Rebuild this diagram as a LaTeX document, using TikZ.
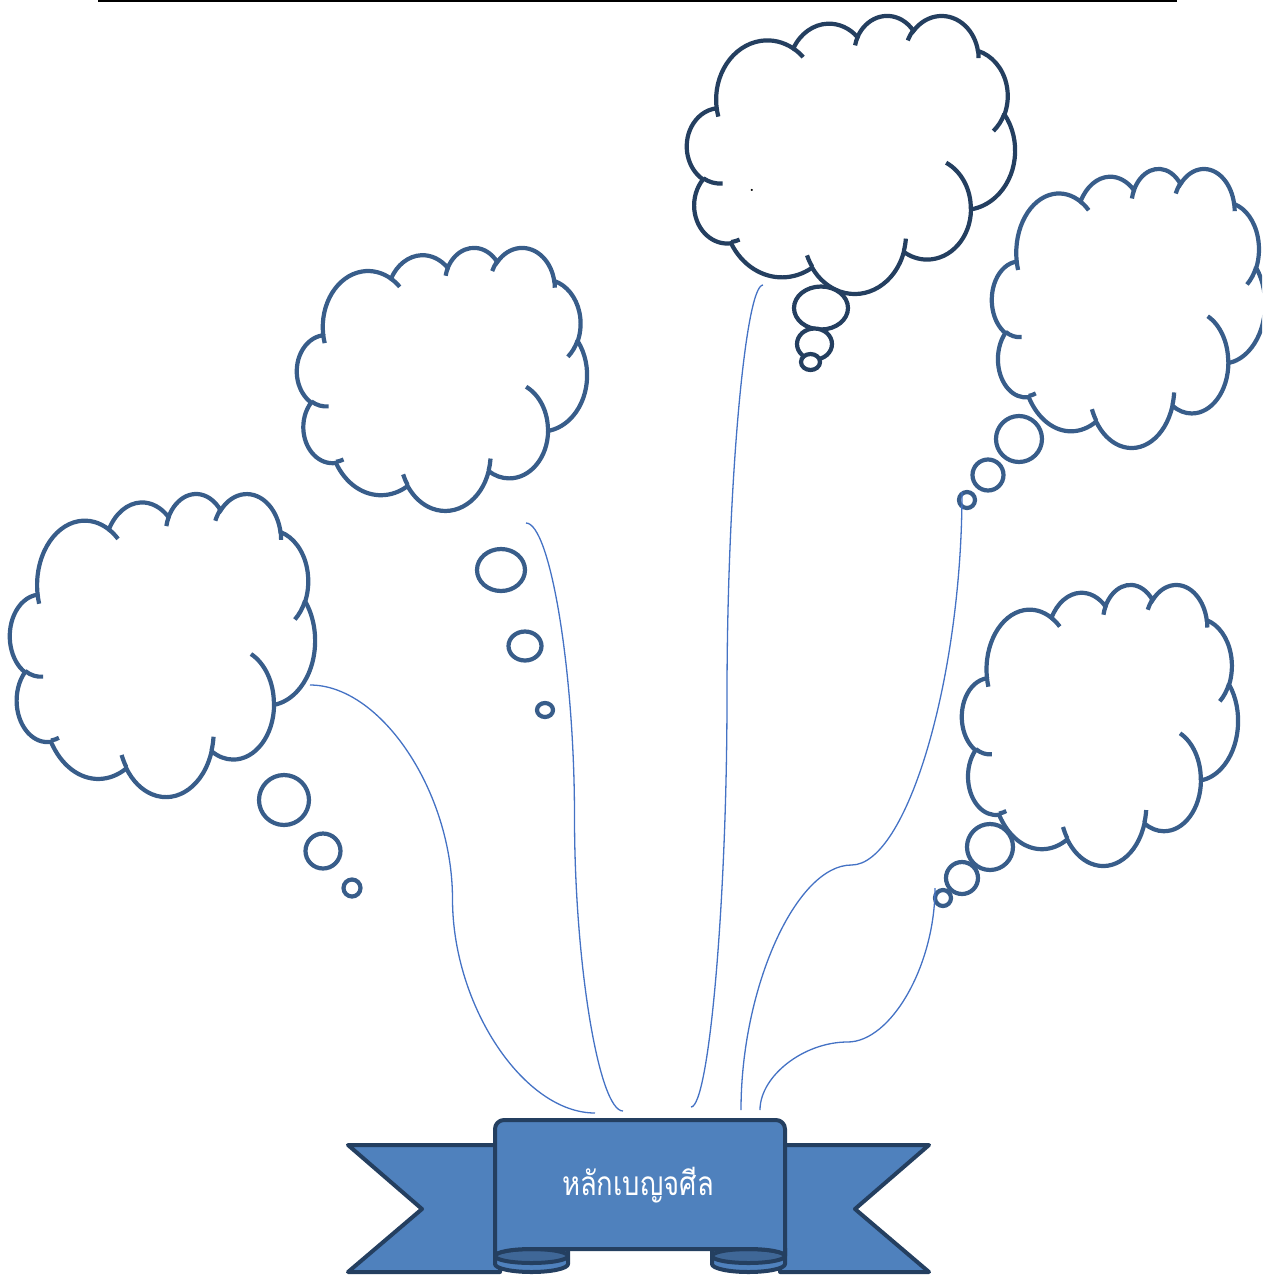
\documentclass[tikz,border=0pt]{standalone}
\usepackage{fontspec}
\newfontfamily\thaifont[Script=Thai,FakeStretch=0.82]{Loma}
\definecolor{darknavy}{HTML}{243F60}
\definecolor{midnavy}{HTML}{385D8A}
\definecolor{ribbonblue}{HTML}{4F81BD}
\definecolor{curlblue}{HTML}{3F6797}
\definecolor{linkblue}{HTML}{4472C4}

% elliptic arc given by radii, start angle and sweep measured as seen (y down)
\tikzset{
  ppt/.style n args={4}{x radius=#1, y radius=#2,
    start angle={atan2((#1)*sin(#3),(#2)*cos(#3))},
    delta angle={mod(atan2((#1)*sin((#3)+(#4)),(#2)*cos((#3)+(#4)))-atan2((#1)*sin(#3),(#2)*cos(#3))+720,360)}}
}

% thought cloud in a box: left, top, width, height, colour
\newcommand{\thoughtcloud}[5]{%
\begin{scope}[shift={(#1,#2)},xscale=#3/43.2,yscale=#4/43.2]
\draw[cloudline,draw=#5,fill=white] (3.900,14.370)
  arc[ppt={6.753}{9.190}{-190.4875}{123.7805}]
  arc[ppt={5.333}{7.267}{-144.1024}{89.9452}]
  arc[ppt={4.365}{5.945}{-145.8079}{99.7230}]
  arc[ppt={4.857}{6.595}{-130.9861}{117.2417}]
  arc[ppt={5.333}{7.273}{-78.7089}{109.0269}]
  arc[ppt={6.775}{9.220}{-46.2673}{130.2690}]
  arc[ppt={5.785}{7.867}{0.6250}{114.0333}]
  arc[ppt={6.752}{9.215}{22.4516}{115.1726}]
  arc[ppt={7.720}{10.543}{66.2426}{75.7110}]
  arc[ppt={4.360}{5.918}{-274.9421}{146.7356}]
  arc[ppt={4.345}{5.945}{-246.8285}{152.5189}] -- cycle;
\draw[cloudline,draw=#5]
  (4.693,26.177) arc[ppt={4.345}{5.945}{86.7420}{26.4295}]
  (6.928,34.899) arc[ppt={4.360}{5.918}{73.6105}{11.4475}]
  (16.478,39.090) arc[ppt={6.752}{9.215}{137.6242}{14.0811}]
  (28.827,34.751) arc[ppt={6.752}{9.215}{6.4533}{15.9984}]
  (34.129,22.954) arc[ppt={5.785}{7.867}{-70.2924}{70.9174}]
  (41.798,15.354) arc[ppt={5.333}{7.273}{30.3180}{27.7515}]
  (38.324,5.426) arc[ppt={4.857}{6.595}{-13.7443}{14.8589}]
  (29.078,3.952) arc[ppt={4.857}{6.595}{-149.1815}{18.1954}]
  (22.141,4.720) arc[ppt={4.365}{5.945}{-163.4943}{17.6864}]
  (14.000,5.192) arc[ppt={6.753}{9.190}{-66.7070}{12.3194}]
  (4.127,15.789) arc[ppt={6.753}{9.190}{157.6544}{11.8582}];
\end{scope}}

\begin{document}
\begin{tikzpicture}[x=0.01cm,y=-0.01cm,
    cloudline/.style={line width=0.042cm},
    bubble/.style={line width=0.042cm,fill=white},
    link/.style={draw=linkblue,line width=0.013cm},
    ribbon/.style={draw=darknavy,fill=ribbonblue,line width=0.04cm,line join=round},
    ribbontext/.style={text=white,font=\thaifont\fontsize{9.5}{11}\selectfont,inner sep=0pt}
]
\useasboundingbox (0,0) rectangle (1262,1275);
\clip (0,0) rectangle (1262,1275);

\draw[line width=0.02cm] (98,1) -- (1177,1);

% clouds
\thoughtcloud{10}{493}{305}{303}{midnavy}
\thoughtcloud{297}{247}{290}{263}{midnavy}
\thoughtcloud{687}{15}{328}{278}{darknavy}
\thoughtcloud{992}{168}{273}{279}{midnavy}
\thoughtcloud{962}{584}{276}{281}{midnavy}

% bubbles: x/y/rx/ry
\foreach \bx/\by/\rx/\ry in {352/888/8.5/8.5,323/851/17.5/17.5,284/800/25/25,
    545/710/8/7,525/646/16.5/14.5,501/570/24/21,
    967/500/8/8,988/475/15.5/15.5,1019/439/23/23,
    943/898/8/8,962/878/16/16,990/847/23/23}
  \draw[bubble,draw=midnavy] (\bx,\by) ellipse[x radius=\rx,y radius=\ry];
\foreach \bx/\by/\rx/\ry in {821/308/27/21.5,814.5/344/17.5/15.5,810.5/362/9.5/8}
  \draw[bubble,draw=darknavy] (\bx,\by) ellipse[x radius=\rx,y radius=\ry];

\node[inner sep=0pt,font=\tiny] (dot) at (752,190) {.};

% connectors
\coordinate (tailA) at (310,685);
\coordinate (tailB) at (526,523);
\coordinate (tailC) at (763,285);
\coordinate (tailD) at (962,492);
\coordinate (tailE) at (935,888);
\coordinate (footA) at (595,1113);
\coordinate (footB) at (623,1111);
\coordinate (footC) at (691,1107);
\coordinate (footD) at (741,1110);
\coordinate (footE) at (760,1110);

\draw[link] (tailA) .. controls (381,685) and (452.5,792) .. (452.5,899)
  .. controls (452.5,1006) and (524,1113) .. (footA);
\draw[link] (tailB) .. controls (550,523) and (574.5,670) .. (574.5,817)
  .. controls (574.5,964) and (599,1111) .. (footB);
\draw[link] (tailC) .. controls (745,285) and (727,490.5) .. (727,696)
  .. controls (727,901.5) and (709,1107) .. (footC);
\draw[link] (tailD) .. controls (962,678.5) and (906.75,865) .. (851.5,865)
  .. controls (796.25,865) and (741,987.5) .. (footD);
\draw[link] (tailE) .. controls (935,965) and (891.25,1042) .. (847.5,1042)
  .. controls (803.75,1042) and (760,1076) .. (footE);

% ribbon
\draw[ribbon] (348,1145) -- (500,1145) -- (500,1272) -- (348,1272) -- (422,1209) -- cycle;
\draw[ribbon] (929,1145) -- (780,1145) -- (780,1272) -- (929,1272) -- (855,1209) -- cycle;
\draw[ribbon] (495,1248) -- (495,1264) arc[start angle=180,end angle=0,x radius=36.5,y radius=8] -- (568,1248) -- cycle;
\draw[ribbon] (785,1248) -- (785,1264) arc[start angle=0,end angle=180,x radius=36.5,y radius=8] -- (712,1248) -- cycle;
\draw[ribbon,fill=curlblue] (531.5,1256) ellipse[x radius=36.5,y radius=7];
\draw[ribbon,fill=curlblue] (748.5,1256) ellipse[x radius=36.5,y radius=7];
\draw[ribbon] (495,1256) -- (495,1129) arc[start angle=180,end angle=270,radius=9]
  -- (776,1120) arc[start angle=270,end angle=360,radius=9] -- (785,1256)
  arc[start angle=0,end angle=-90,x radius=36.5,y radius=7] -- (531.5,1249)
  arc[start angle=-90,end angle=-180,x radius=36.5,y radius=7] -- cycle;
\node[ribbontext] (title) at (638,1185) {หลักเบญจศีล};
\end{tikzpicture}
\end{document}
